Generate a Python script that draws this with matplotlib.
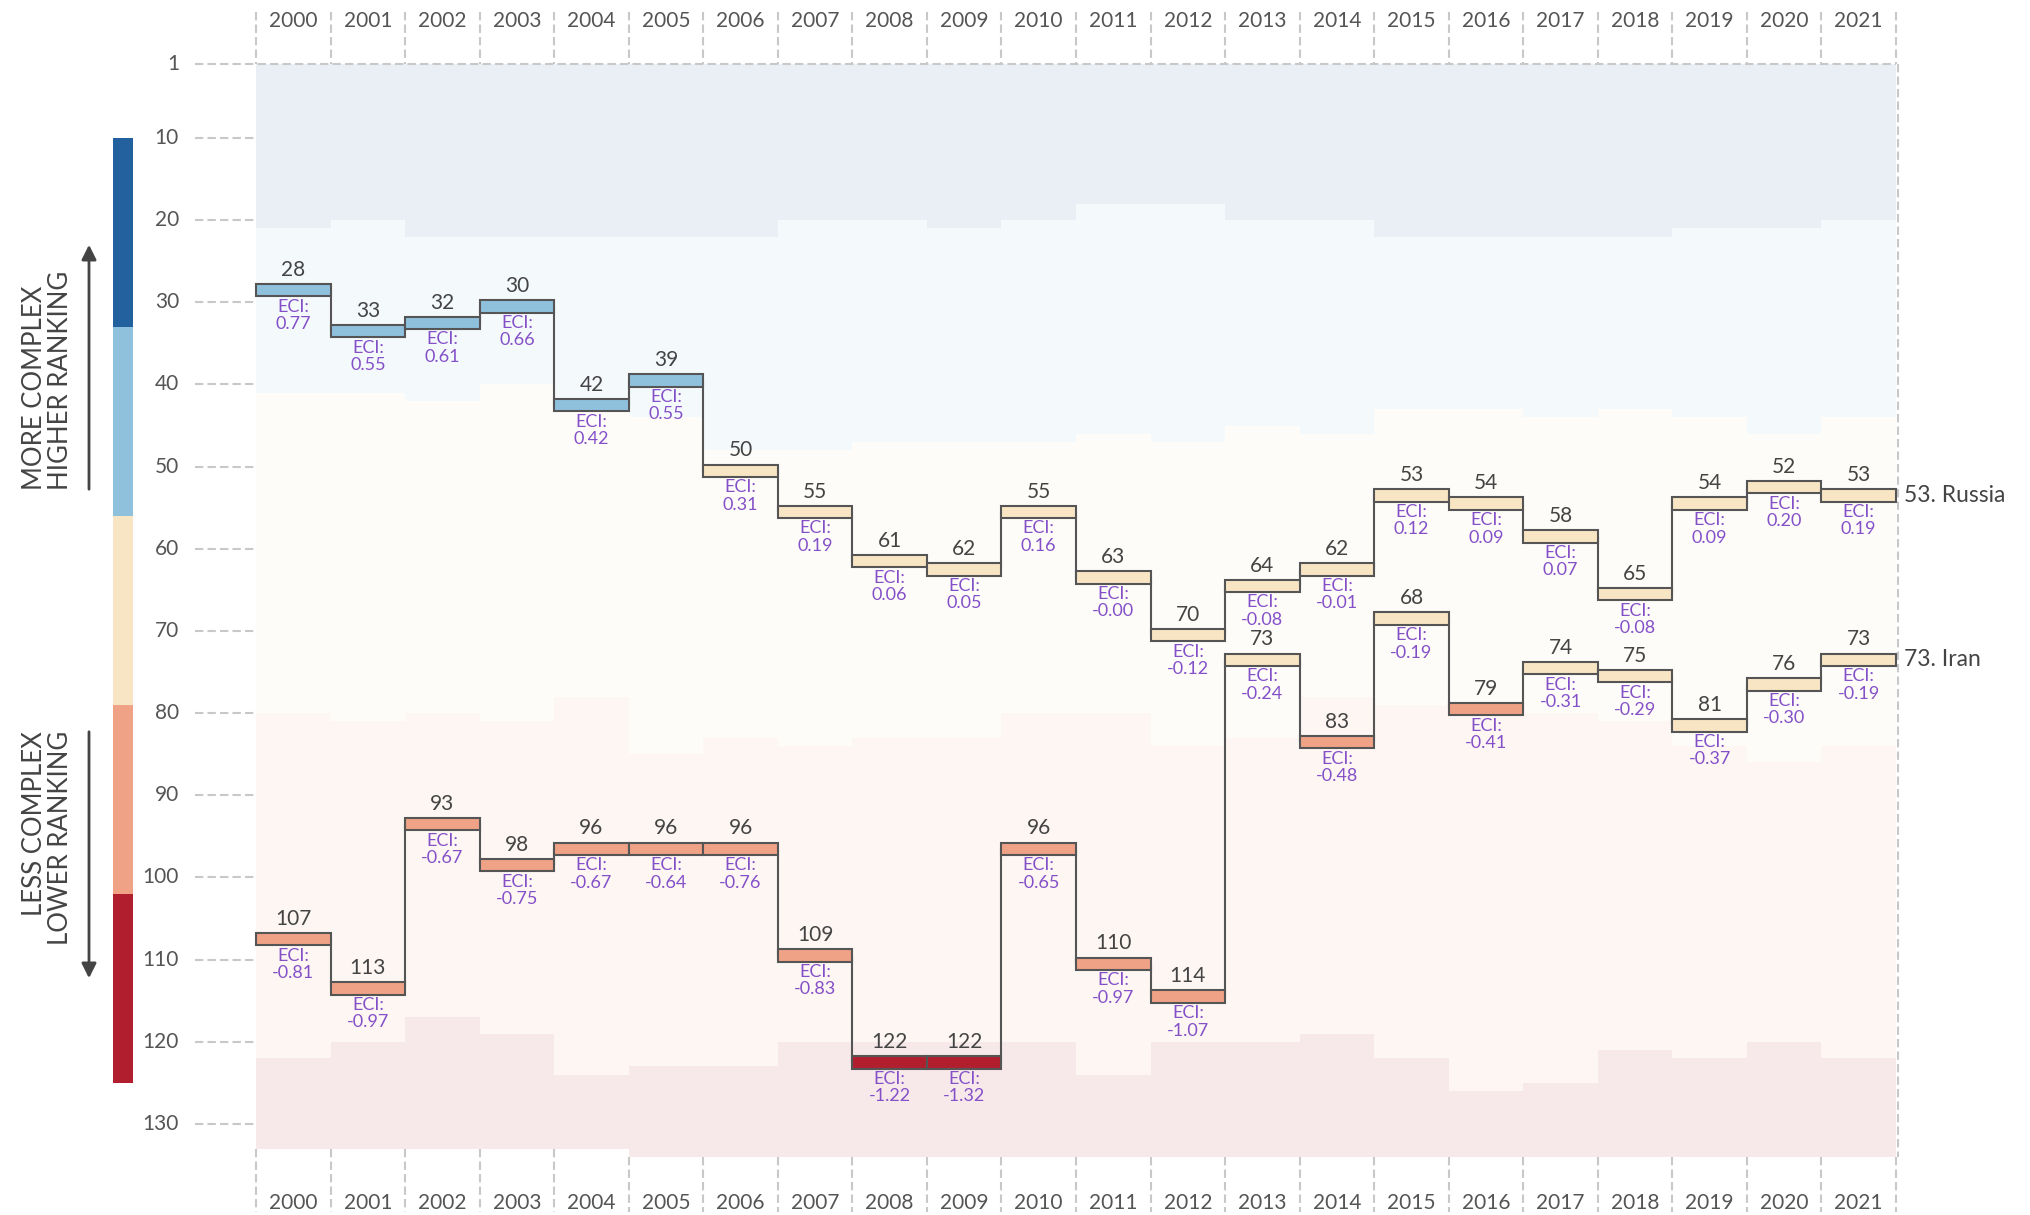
import matplotlib.pyplot as plt
import matplotlib.colors as mcolors
import numpy as np

# ===========================
# DATA
# ===========================
years = list(range(2000, 2022))

russia_rank = [28, 33, 32, 30, 42, 39, 50, 55, 61, 62, 55, 63, 70, 64, 62, 53, 54, 58, 65, 54, 52, 53]
russia_eci = [0.77, 0.55, 0.61, 0.66, 0.42, 0.55, 0.31, 0.19, 0.06, 0.05, 0.16, -0.00, -0.12,
              -0.08, -0.01, 0.12, 0.09, 0.07, -0.08, 0.09, 0.20, 0.19]

iran_rank = [107, 113, 93, 98, 96, 96, 96, 109, 122, 122, 96, 110, 114, 73, 83, 68, 79, 74, 75, 81, 76, 73]
iran_eci = [-0.81, -0.97, -0.67, -0.75, -0.67, -0.64, -0.76, -0.83, -1.22, -1.32, -0.65, -0.97, -1.07,
            -0.24, -0.48, -0.19, -0.41, -0.31, -0.29, -0.37, -0.30, -0.19]

# last rank of each colour tier, per year
tier1_last = [20, 19, 21, 21, 21, 21, 21, 19, 19, 20, 19, 17, 17, 19, 19, 21, 21, 21, 21, 20, 20, 19]
tier2_last = [40, 40, 41, 39, 42, 43, 47, 47, 46, 46, 46, 45, 46, 44, 45, 42, 42, 43, 42, 43, 45, 43]
tier3_last = [79, 80, 79, 80, 77, 84, 82, 83, 82, 82, 79, 79, 83, 82, 77, 78, 78, 79, 80, 83, 85, 83]
tier4_last = [121, 119, 116, 118, 123, 122, 122, 119, 119, 119, 119, 123, 119, 119, 118, 121, 125, 124,
              120, 121, 119, 121]
n_ranked = [132, 132, 132, 132, 132, 133, 133, 133, 133, 133, 133, 133, 133, 133, 133, 133, 133, 133,
            133, 133, 133, 133]

tier_colors = ['#23619E', '#8FC1DD', '#F8E5C4', '#EFA285', '#B11F2F']
y_ticks = [1, 10, 20, 30, 40, 50, 60, 70, 80, 90, 100, 110, 120, 130]

# ===========================
# STYLE
# ===========================
plt.rcParams['font.family'] = ['Lato', 'DejaVu Sans']
GRID = '#c8c8c8'
TXT = '#555555'
DARK = '#444444'
EDGE = '#555555'
PURPLE = '#8450C8'

fig = plt.figure(figsize=(20.31, 12.15), dpi=100)
ax = fig.add_axes([0, 0, 1, 1])
ax.axis('off')

# pixel layout -> data units (one column per year, one unit per rank)
COL = (1896 - 256) / 22
ROW = 8.217


def px_x(p):
    return (p - 256) / COL


def px_y(p):
    return 0.5 + (p - 64) / ROW


ax.set_xlim(px_x(0), px_x(2031))
ax.set_ylim(px_y(1215), px_y(0))

x = np.arange(len(years))
ncol = len(years)

# ===========================
# BACKGROUND BANDS
# ===========================
edges = [np.full(ncol, 0.5)] + [np.array(b) + 0.5 for b in
                                (tier1_last, tier2_last, tier3_last, tier4_last, n_ranked)]
for k in range(5):
    c = np.array(mcolors.to_rgb(tier_colors[k]))
    light = 0.1 * c + 0.9
    ax.bar(x, edges[k + 1] - edges[k], bottom=edges[k], width=1, align='edge',
           color=light, linewidth=0, zorder=1)

# ===========================
# GRID / AXES DECORATION
# ===========================
dash = (0, (4, 2))
ax.plot([px_x(195), ncol], [0.5, 0.5], color=GRID, lw=1.5, ls=dash, zorder=2)
for t in y_ticks:
    if t > 1:
        ax.plot([px_x(195), 0], [t - 0.5, t - 0.5], color=GRID, lw=1.5, ls=dash, zorder=2)
    ax.text(px_x(179), t - 0.5, str(t), ha='right', va='center', fontsize=15, color=TXT)

for i in range(ncol + 1):
    ax.plot([i, i], [px_y(12), 0.5], color=GRID, lw=1.5, ls=dash, zorder=2)
    left = n_ranked[i - 1] if i > 0 else n_ranked[0]
    right = n_ranked[i] if i < ncol else n_ranked[-1]
    ax.plot([i, i], [max(left, right) + 0.5, px_y(1212)], color=GRID, lw=1.5, ls=dash, zorder=2)
ax.plot([ncol + 0.03, ncol + 0.03], [0.5, n_ranked[-1] + 0.5], color=GRID, lw=1.5, ls=dash, zorder=2)

for i, yr in enumerate(years):
    ax.text(i + 0.5, px_y(21), str(yr), ha='center', va='center', fontsize=15, color=TXT)
    ax.text(i + 0.5, px_y(1203), str(yr), ha='center', va='center', fontsize=15, color=TXT)

# colour key on the left
cb_x = px_x(113)
cb_w = px_x(133) - cb_x
seg = 23
for k in range(5):
    ax.bar(cb_x, seg, bottom=9.5 + seg * k, width=cb_w, align='edge',
           color=tier_colors[k], linewidth=0, zorder=3)

ax.annotate('', xy=(px_x(89), px_y(242)), xytext=(px_x(89), px_y(492)),
            arrowprops=dict(arrowstyle='-|>', color=DARK, lw=2, mutation_scale=22))
ax.annotate('', xy=(px_x(89), px_y(981)), xytext=(px_x(89), px_y(729)),
            arrowprops=dict(arrowstyle='-|>', color=DARK, lw=2, mutation_scale=22))
ax.text(px_x(48), px_y(490), 'MORE COMPLEX\nHIGHER RANKING', rotation=90, ha='center', va='bottom',
        multialignment='left', fontsize=18.5, color=DARK, linespacing=1.05)
ax.text(px_x(48), px_y(731), 'LESS COMPLEX\nLOWER RANKING', rotation=90, ha='center', va='top',
        multialignment='right', fontsize=18.5, color=DARK, linespacing=1.05)

# ===========================
# COUNTRY STEPS
# ===========================
tier_lasts = (tier1_last, tier2_last, tier3_last, tier4_last)
BAR_H = 1.5

for ranks, ecis, name in [(russia_rank, russia_eci, 'Russia'), (iran_rank, iran_eci, 'Iran')]:
    ax.step(x + 0.5, ranks, where='mid', color=EDGE, lw=1.5, zorder=4)
    colors = [tier_colors[sum(r > b[i] for b in tier_lasts)] for i, r in enumerate(ranks)]
    ax.bar(x, BAR_H, bottom=np.array(ranks) - BAR_H / 2, width=1, align='edge',
           color=colors, edgecolor=EDGE, linewidth=1.5, zorder=5)
    for i, (r, e) in enumerate(zip(ranks, ecis)):
        ax.text(i + 0.5, r - BAR_H / 2 - 0.5, str(r), ha='center', va='bottom',
                fontsize=15, color=DARK, zorder=6)
        ax.text(i + 0.5, r + BAR_H / 2 + 0.3, f"ECI:\n{e:.2f}", ha='center', va='top',
                fontsize=13, color=PURPLE, linespacing=1.1, zorder=6)
    ax.text(px_x(1904), ranks[-1], f"{ranks[-1]}. {name}", ha='left', va='center',
            fontsize=16.5, color=DARK)

fig.savefig('out.png', dpi=100)
